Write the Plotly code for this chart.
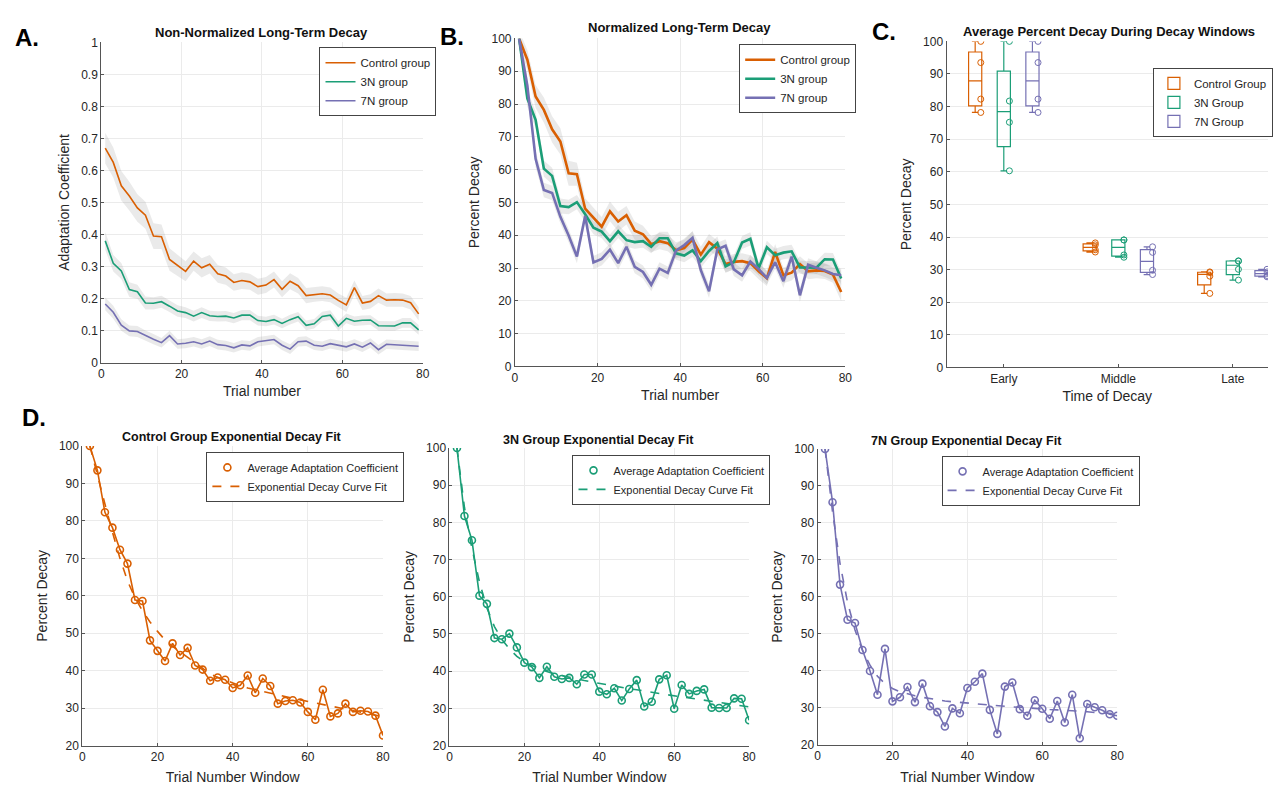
import plotly.graph_objects as go

# ---------------- data ----------------
trial_B = list(range(1, 80, 2))          # panel A/B x values (trial number)
window_D = list(range(2, 81, 2))         # panel D x values (trial number window)

# Panel A: non-normalized adaptation coefficient
ctrl_A = [0.67, 0.625, 0.552, 0.52, 0.483, 0.46, 0.395, 0.393, 0.322, 0.303,
          0.285, 0.317, 0.296, 0.307, 0.277, 0.27, 0.25, 0.256, 0.252, 0.237,
          0.242, 0.259, 0.229, 0.254, 0.24, 0.209, 0.213, 0.215, 0.211, 0.194,
          0.18, 0.234, 0.186, 0.191, 0.209, 0.195, 0.196, 0.195, 0.187, 0.152]
n3_A = [0.38, 0.31, 0.286, 0.228, 0.221, 0.186, 0.185, 0.19, 0.176, 0.161,
        0.156, 0.145, 0.156, 0.146, 0.144, 0.145, 0.139, 0.148, 0.148, 0.131,
        0.128, 0.134, 0.122, 0.134, 0.143, 0.116, 0.121, 0.144, 0.148, 0.114,
        0.138, 0.129, 0.132, 0.133, 0.115, 0.114, 0.114, 0.124, 0.124, 0.102]
n7_A = [0.183, 0.157, 0.117, 0.099, 0.097, 0.084, 0.073, 0.062, 0.084, 0.058,
        0.06, 0.065, 0.058, 0.067, 0.056, 0.053, 0.046, 0.055, 0.052, 0.065,
        0.068, 0.072, 0.054, 0.042, 0.065, 0.067, 0.054, 0.051, 0.059, 0.054,
        0.049, 0.058, 0.048, 0.061, 0.04, 0.057, 0.055, 0.054, 0.052, 0.051]
ctrl_A_err = [0.048, 0.047, 0.046, 0.045, 0.043, 0.042, 0.04, 0.038, 0.035, 0.033,
              0.031, 0.03, 0.03, 0.029, 0.028, 0.027, 0.026, 0.026, 0.025, 0.025,
              0.025, 0.025, 0.025, 0.025, 0.024, 0.024, 0.023, 0.023, 0.023, 0.022,
              0.022, 0.022, 0.022, 0.022, 0.022, 0.021, 0.021, 0.021, 0.021, 0.021]
n3_A_err = [0.028, 0.026, 0.025, 0.023, 0.022, 0.02, 0.019, 0.019, 0.018, 0.018,
            0.017, 0.017, 0.017, 0.016, 0.016, 0.016, 0.016, 0.016, 0.016, 0.015,
            0.015, 0.015, 0.015, 0.015, 0.015, 0.015, 0.015, 0.015, 0.015, 0.015,
            0.015, 0.015, 0.015, 0.015, 0.015, 0.015, 0.015, 0.015, 0.015, 0.015]
n7_A_err = [0.02, 0.02, 0.018, 0.017, 0.017, 0.016, 0.016, 0.015, 0.015, 0.015,
            0.015, 0.015, 0.015, 0.015, 0.015, 0.015, 0.015, 0.015, 0.015, 0.015,
            0.015, 0.015, 0.015, 0.015, 0.015, 0.015, 0.015, 0.015, 0.015, 0.015,
            0.015, 0.015, 0.015, 0.015, 0.015, 0.015, 0.015, 0.015, 0.015, 0.015]

# Panels B and D: percent decay
ctrl_pct = [100, 93.5, 82.3, 78.2, 72.3, 68.6, 58.9, 58.6, 48.1, 45.3,
            42.6, 47.3, 44.2, 46.1, 41.4, 40.3, 37.3, 38.2, 37.6, 35.4,
            36.1, 38.7, 34.1, 37.9, 35.9, 31.2, 31.9, 32.1, 31.5, 29.0,
            26.9, 34.9, 27.8, 28.6, 31.2, 29.0, 29.3, 29.1, 28.0, 22.7]
n3_pct = [100, 81.7, 75.2, 60.3, 58.1, 48.9, 48.6, 50.1, 46.4, 42.3,
          41.1, 38.2, 41.2, 38.5, 37.9, 38.2, 36.5, 39.1, 39.1, 34.5,
          33.8, 35.4, 32.1, 35.2, 37.6, 30.5, 31.8, 37.8, 38.9, 29.9,
          36.3, 33.9, 34.7, 35.1, 30.2, 30.1, 30.1, 32.7, 32.6, 26.8]
n7_pct = [100, 85.6, 63.3, 53.8, 52.9, 45.6, 39.9, 33.5, 45.9, 31.7,
          32.8, 35.6, 31.5, 36.5, 30.4, 28.8, 24.9, 29.8, 28.5, 35.3,
          37.0, 39.2, 29.4, 22.9, 35.7, 36.8, 29.6, 27.8, 32.0, 29.7,
          27.0, 31.8, 26.0, 33.5, 21.7, 31.0, 30.1, 29.3, 28.2, 27.8]
ctrl_pct_err = [2.5, 3.0, 3.5, 3.8, 4.0, 4.0, 3.8, 3.5, 3.2, 3.0,
                3.0, 3.0, 3.0, 2.8, 2.8, 2.6, 2.5, 2.5, 2.5, 2.5,
                2.5, 2.5, 2.5, 2.5, 2.5, 2.5, 2.4, 2.4, 2.4, 2.4,
                2.4, 2.4, 2.4, 2.4, 2.4, 2.4, 2.4, 2.4, 2.5, 2.8]
n3_pct_err = [2.0, 2.5, 2.5, 2.5, 2.5, 2.3, 2.2, 2.2, 2.2, 2.0,
              2.0, 2.0, 2.0, 2.0, 2.0, 2.0, 2.0, 2.0, 2.0, 2.0,
              2.0, 2.0, 2.0, 2.0, 2.0, 2.0, 2.0, 2.0, 2.0, 2.0,
              2.0, 2.0, 2.0, 2.0, 2.0, 2.0, 2.0, 2.0, 2.0, 2.0]
n7_pct_err = [2.0, 2.5, 2.5, 2.2, 2.2, 2.0, 2.0, 2.0, 2.0, 2.0,
              2.0, 2.0, 2.0, 2.0, 2.0, 2.0, 2.0, 2.0, 2.0, 2.0,
              2.0, 2.0, 2.0, 2.0, 2.0, 2.0, 2.0, 2.0, 2.0, 2.0,
              2.0, 2.0, 2.0, 2.0, 2.0, 2.0, 2.0, 2.0, 2.0, 2.0]

# Panel D: exponential fits
ctrl_fit = [100, 92, 84.5, 77, 70, 64, 59.5, 56, 53, 50.5,
            48.2, 46.5, 45, 43.5, 42, 40.6, 39.2, 38.2, 37.4, 36.6,
            36, 35.4, 34.9, 34.4, 33.9, 33.4, 33, 32.6, 32.2, 31.8,
            31.3, 30.9, 30.5, 30.1, 29.7, 29.3, 28.9, 28.5, 28.1, 27.7]
n3_fit = [100, 84, 73, 64, 57, 52, 48.5, 46, 44, 42.5,
          41.5, 40.6, 39.9, 39.3, 38.8, 38.3, 37.9, 37.5, 37.1, 36.7,
          36.3, 36, 35.6, 35.3, 35, 34.6, 34.3, 34, 33.7, 33.4,
          33.1, 32.8, 32.5, 32.2, 31.9, 31.6, 31.3, 31, 30.7, 30.4]
n7_fit = [100, 83, 69, 58.5, 51, 45.5, 41.5, 38.5, 36.5, 35.2,
          34.3, 33.7, 33.2, 32.8, 32.4, 32.1, 31.8, 31.6, 31.4, 31.2,
          31, 30.8, 30.7, 30.5, 30.4, 30.2, 30.1, 29.9, 29.8, 29.7,
          29.5, 29.4, 29.3, 29.1, 29, 28.9, 28.7, 28.6, 28.5, 28.3]

# Panel C: box plot data per decay window
windows = ["Early", "Middle", "Late"]
early_ctrl = [100, 93.5, 82.3, 78.2]
early_3n = [100, 81.7, 75.2, 60.3]
early_7n = [100, 93.5, 82.3, 78.2]
mid_ctrl = [38.2, 37.6, 35.4, 36.1]
mid_3n = [39.1, 39.1, 34.5, 33.8]
mid_7n = [29.8, 28.5, 35.3, 37.0]
late_ctrl = [29.3, 29.1, 28.0, 22.7]
late_3n = [30.1, 32.7, 32.6, 26.8]
late_7n = [30.1, 29.3, 28.2, 27.8]

group_names = ["Control group", "3N group", "7N group"]
box_names = ["Control Group", "3N Group", "7N Group"]
colors = ["#D95F02", "#1B9E77", "#7570B3"]

# ---------------- figure ----------------
W, H = 1275, 785
FONT = "Liberation Sans, Arial, sans-serif"
TXT = "#262626"
GRID = "#ebebeb"
AXL = "#555555"

fig = go.Figure()


def band(x, y, e, xa, ya):
    up = [a + b for a, b in zip(y, e)]
    lo = [a - b for a, b in zip(y, e)]
    fig.add_trace(go.Scatter(x=x + x[::-1], y=up + lo[::-1], fill="toself",
                             fillcolor="rgba(150,150,150,0.20)",
                             line=dict(width=0), hoverinfo="skip",
                             showlegend=False, xaxis=xa, yaxis=ya))


# Panel A
for y, e in [(ctrl_A, ctrl_A_err), (n3_A, n3_A_err), (n7_A, n7_A_err)]:
    band(trial_B, y, e, "x", "y")
for y, nm, c in zip([ctrl_A, n3_A, n7_A], group_names, colors):
    fig.add_trace(go.Scatter(x=trial_B, y=y, mode="lines", name=nm,
                             line=dict(color=c, width=1.6),
                             xaxis="x", yaxis="y", legend="legend"))

# Panel B
for y, e in [(ctrl_pct, ctrl_pct_err), (n3_pct, n3_pct_err), (n7_pct, n7_pct_err)]:
    band(trial_B, y, e, "x2", "y2")
for y, nm, c in zip([ctrl_pct, n3_pct, n7_pct], group_names, colors):
    fig.add_trace(go.Scatter(x=trial_B, y=y, mode="lines", name=nm,
                             line=dict(color=c, width=2.6),
                             xaxis="x2", yaxis="y2", legend="legend2"))

# Panel C
box_sets = [(early_ctrl, mid_ctrl, late_ctrl),
            (early_3n, mid_3n, late_3n),
            (early_7n, mid_7n, late_7n)]
for (e, m, l), nm, c in zip(box_sets, box_names, colors):
    xs = [windows[0]] * len(e) + [windows[1]] * len(m) + [windows[2]] * len(l)
    fig.add_trace(go.Box(x=xs, y=e + m + l, name=nm, boxpoints="all",
                         jitter=0, pointpos=0.85, whiskerwidth=0.5,
                         quartilemethod="exclusive",
                         line=dict(color=c, width=1.2),
                         fillcolor="rgba(0,0,0,0)",
                         marker=dict(symbol="circle-open", size=6, color=c,
                                     line=dict(width=1)),
                         xaxis="x3", yaxis="y3", legend="legend3"))

# Panel D
fits = [ctrl_fit, n3_fit, n7_fit]
for i, (y, f, c) in enumerate(zip([ctrl_pct, n3_pct, n7_pct], fits, colors)):
    xa, ya, lg = f"x{4 + i}", f"y{4 + i}", f"legend{4 + i}"
    fig.add_trace(go.Scatter(x=window_D, y=y, mode="lines",
                             line=dict(color=c, width=1.6), showlegend=False,
                             xaxis=xa, yaxis=ya))
    fig.add_trace(go.Scatter(x=window_D, y=y, mode="markers",
                             name="Average Adaptation Coefficient",
                             marker=dict(symbol="circle-open", size=7, color=c,
                                         line=dict(width=1.6)),
                             xaxis=xa, yaxis=ya, legend=lg))
    fig.add_trace(go.Scatter(x=window_D, y=f, mode="lines",
                             name="Exponential Decay Curve Fit",
                             line=dict(color=c, width=1.6, dash="dash"),
                             xaxis=xa, yaxis=ya, legend=lg))


def px_x(a, b):
    return [a / W, b / W]


def px_y(top, bottom):
    return [1 - bottom / H, 1 - top / H]


def xaxis(dom, anchor, rng, title, dtick=20, standoff=6, **kw):
    d = dict(domain=dom, anchor=anchor, range=rng, showgrid=True,
             gridcolor=GRID, gridwidth=1, zeroline=False, showline=True,
             linecolor=AXL, linewidth=1, ticks="inside", ticklen=3,
             tickcolor=AXL, tickfont=dict(size=12, color=TXT, family=FONT),
             title=dict(text=title, font=dict(size=14, color=TXT, family=FONT),
                        standoff=standoff))
    if dtick is not None:
        d.update(dtick=dtick, tick0=0)
    d.update(kw)
    return d


def yaxis(dom, anchor, rng, title, dtick, standoff=8):
    return dict(domain=dom, anchor=anchor, range=rng, dtick=dtick, tick0=0,
                showgrid=True, gridcolor=GRID, gridwidth=1, zeroline=False,
                showline=True, linecolor=AXL, linewidth=1, ticks="inside",
                ticklen=3, tickcolor=AXL,
                tickfont=dict(size=12, color=TXT, family=FONT),
                title=dict(text=title, font=dict(size=14, color=TXT, family=FONT),
                           standoff=standoff))


def legend(x, y, size=11.5):
    return dict(x=x / W, y=1 - y / H, xanchor="left", yanchor="top",
                bgcolor="white", bordercolor="#444444", borderwidth=1,
                font=dict(size=size, color=TXT, family=FONT),
                itemwidth=30, tracegroupgap=0)


fig.update_layout(
    width=W, height=H, margin=dict(l=0, r=0, t=0, b=0),
    paper_bgcolor="white", plot_bgcolor="white",
    font=dict(family=FONT, color=TXT),
    boxmode="group", boxgap=0.25, boxgroupgap=0.54,
    xaxis=xaxis(px_x(99, 423), "y", [0, 80], "Trial number"),
    yaxis=yaxis(px_y(36, 362), "x", [0, 1], "Adaptation Coefficient", 0.1),
    xaxis2=xaxis(px_x(516, 849), "y2", [0, 80], "Trial number"),
    yaxis2=yaxis(px_y(32, 366), "x2", [0, 100], "Percent Decay", 10),
    xaxis3=xaxis(px_x(951, 1275), "y3", [-0.5, 2.307], "Time of Decay",
                 dtick=None, type="category", showgrid=False),
    yaxis3=yaxis(px_y(35, 367), "x3", [0, 100], "Percent Decay", 10),
    xaxis4=xaxis(px_x(80, 383), "y4", [0, 80], "Trial Number Window", standoff=10),
    yaxis4=yaxis(px_y(447, 752), "x4", [20, 100], "Percent Decay", 10),
    xaxis5=xaxis(px_x(450, 752), "y5", [0, 80], "Trial Number Window", standoff=10),
    yaxis5=yaxis(px_y(449, 752), "x5", [20, 100], "Percent Decay", 10),
    xaxis6=xaxis(px_x(821, 1123), "y6", [0, 80], "Trial Number Window", standoff=10),
    yaxis6=yaxis(px_y(450, 751), "x6", [20, 100], "Percent Decay", 10),
    legend=legend(319, 41),
    legend2=legend(742, 38),
    legend3=legend(1159, 62),
    legend4=legend(205, 453, 11),
    legend5=legend(574, 456, 11),
    legend6=legend(946, 457, 11),
)

# titles and panel labels
titles = [("Non-Normalized Long-Term Decay", 261, 26, 13),
          ("Normalized Long-Term Decay", 682, 21, 13),
          ("Average Percent Decay During Decay Windows", 1115, 25, 13),
          ("Control Group Exponential Decay Fit", 231, 438, 12.5),
          ("3N Group Exponential Decay Fit", 600, 441, 12.5),
          ("7N Group Exponential Decay Fit", 971, 442, 12.5)]
for t, x, y, s in titles:
    fig.add_annotation(text=f"<b>{t}</b>", x=x / W, y=1 - y / H, xref="paper",
                       yref="paper", showarrow=False, xanchor="center",
                       yanchor="middle", font=dict(size=s, color="#111111", family=FONT))

labels = [("A.", 24, 31), ("B.", 453, 30), ("C.", 888, 25), ("D.", 31, 418)]
for t, x, y in labels:
    fig.add_annotation(text=f"<b>{t}</b>", x=x / W, y=1 - y / H, xref="paper",
                       yref="paper", showarrow=False, xanchor="center",
                       yanchor="middle", font=dict(size=24, color="black", family=FONT))

fig.write_html("out.html")
